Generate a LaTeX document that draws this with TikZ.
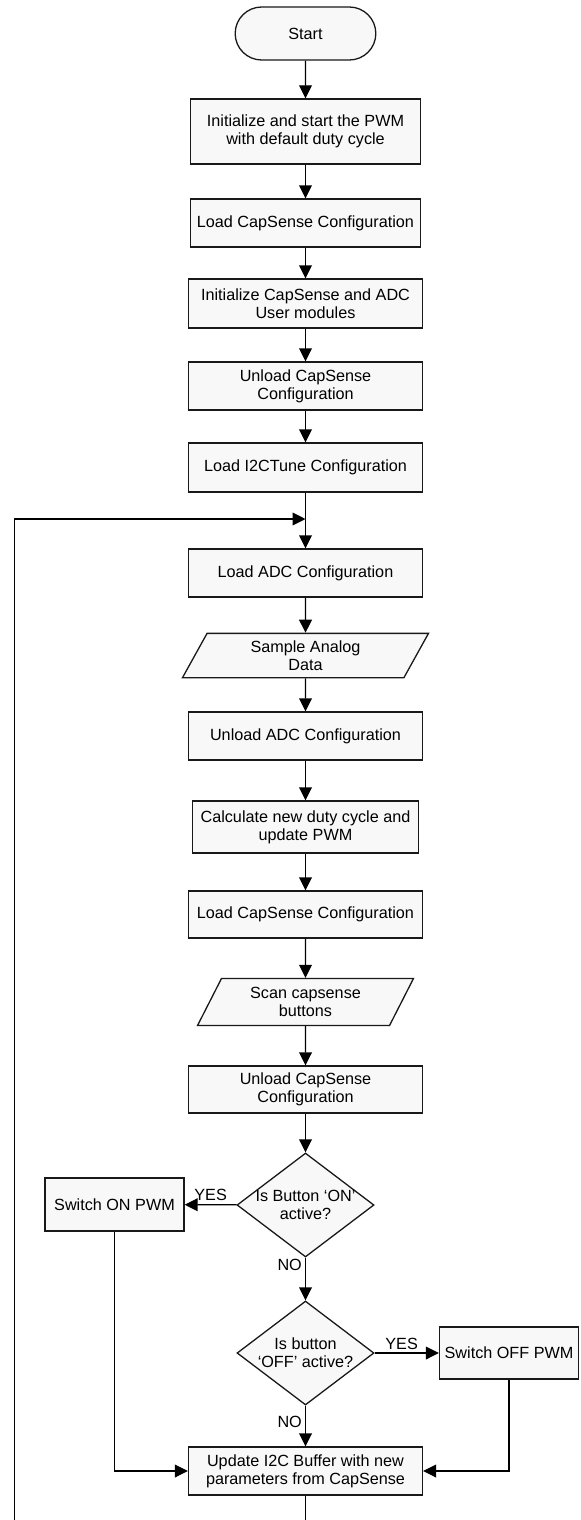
\documentclass[tikz,border=0pt]{standalone}
\usepackage{fontspec}
\setmainfont{Liberation Sans}
\usetikzlibrary{shapes.geometric,shapes.misc,arrows.meta}
\definecolor{boxfill}{RGB}{248,248,248}
\definecolor{boxline}{RGB}{25,25,25}
\tikzset{
  every node/.style={font=\fontsize{8.1}{9}\selectfont},
  termbox/.style={rounded rectangle, draw=boxline, fill=boxfill, minimum width=77pt, minimum height=26.5pt},
  procbox/.style={draw=boxline, fill=boxfill, align=center, minimum width=117pt, minimum height=24pt, inner sep=1pt},
  iobox/.style={trapezium, trapezium left angle=61, trapezium right angle=119, trapezium stretches body,
    draw=boxline, fill=boxfill, align=center, inner xsep=1pt},
  decbox/.style={diamond, shape aspect=1.32, draw=boxline, fill=boxfill, align=center, minimum width=68.5pt, minimum height=52pt, inner sep=-1pt},
  lbl/.style={inner sep=1.5pt}
}
\begin{document}
\begin{tikzpicture}[x=0.5pt, y=-0.5pt, line width=0.65pt, >={Triangle[length=6.5pt,width=6.4pt]}]
\useasboundingbox (0,0) rectangle (581,1520);
\clip (0,0) rectangle (581,1520);
\node[termbox] (start) at (305.5,33.5) {Start};
\node[procbox, minimum width=115pt, minimum height=32.5pt] (b1) at (305.5,131.5) {Initialize and start the PWM\\with default duty cycle};
\node[procbox, minimum width=115pt] (b2) at (305.5,223) {Load CapSense Configuration};
\node[procbox, minimum height=24.5pt] (b3) at (305.5,303.5) {Initialize CapSense and ADC\\User modules};
\node[procbox] (b4) at (305.5,386) {Unload CapSense\\Configuration};
\node[procbox, minimum height=24.5pt] (b5) at (305.5,467.5) {Load I2CTune Configuration};
\coordinate (join) at (305.5,519);
\node[procbox] (b6) at (305.5,573) {Load ADC Configuration};
\node[iobox, minimum width=123pt, inner ysep=3.6pt] (p1) at (305.5,655.5) {Sample Analog\\Data};
\node[procbox] (b7) at (305.5,736) {Unload ADC Configuration};
\node[procbox, minimum width=113pt, minimum height=26pt] (b8) at (305.5,827) {Calculate new duty cycle and\\update PWM};
\node[procbox, minimum height=23.5pt] (b9) at (305.5,914.5) {Load CapSense Configuration};
\node[iobox, trapezium left angle=63, trapezium right angle=117, minimum width=108pt, inner ysep=4.4pt] (p2) at (305.5,1002) {Scan capsense\\buttons};
\node[procbox, minimum height=23.5pt] (b10) at (305.5,1089.5) {Unload CapSense\\Configuration};
\node[decbox] (d1) at (305.5,1205) {Is Button ‘ON’\\active?};
\node[procbox, minimum width=69.5pt, minimum height=26.5pt] (son) at (114.5,1204.5) {Switch ON PWM};
\node[decbox] (d2) at (305.5,1353) {Is button\\‘OFF’ active?};
\node[procbox, minimum width=69.5pt, minimum height=26pt] (soff) at (509,1353) {Switch OFF PWM};
\node[procbox] (upd) at (305.5,1471) {Update I2C Buffer with new\\parameters from CapSense};
\coordinate (loopdown) at (305.5,1545);
\coordinate (loopleft) at (14.5,1545);
\coordinate (loopup) at (14.5,519);
\draw[->] (start) -- (b1);
\draw[->] (b1) -- (b2);
\draw[->] (b2) -- (b3);
\draw[->] (b3) -- (b4);
\draw[->] (b4) -- (b5);
\draw[->] (b5) -- (b6);
\draw[->] (b6) -- (p1);
\draw[->] (p1) -- (b7);
\draw[->] (b7) -- (b8);
\draw[->] (b8) -- (b9);
\draw[->] (b9) -- (p2);
\draw[->] (p2) -- (b10);
\draw[->] (b10) -- (d1);
\draw[->] (d1) -- node[lbl, above, pos=0.5] {YES} (son);
\draw[->] (d1) -- node[lbl, left, pos=0.18] {NO} (d2);
\draw[->] (d2) -- node[lbl, above, pos=0.42] {YES} (soff);
\draw[->] (d2) -- node[lbl, left, pos=0.4] {NO} (upd);
\draw[->] (son) |- (upd);
\draw[->] (soff) |- (upd);
\draw[->] (upd) -- (loopdown) -- (loopleft) -- (loopup) -- (join);
\end{tikzpicture}
\end{document}
